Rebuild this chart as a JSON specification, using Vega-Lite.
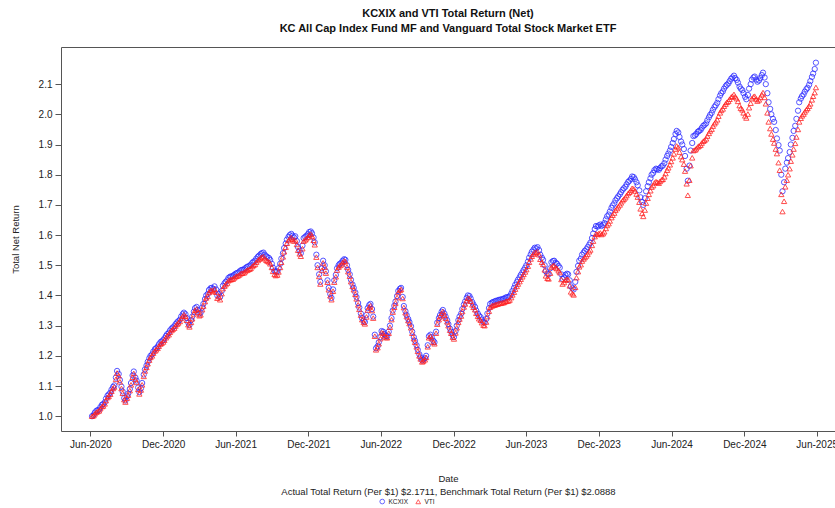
{
  "$schema": "https://vega.github.io/schema/vega-lite/v6.json",
  "width": 774,
  "height": 384,
  "autosize": {"type": "none"},
  "padding": {"left": 61, "top": 47, "right": 0, "bottom": 77},
  "background": "white",
  "config": {"view": {"stroke": null}, "font": "Liberation Sans"},
  "title": {
    "text": ["KCXIX and VTI Total Return (Net)", "KC All Cap Index Fund MF and Vanguard Total Stock Market ETF"],
    "fontSize": 11, "fontWeight": "bold", "lineHeight": 15, "anchor": "middle", "frame": "group", "offset": 13, "color": "#111"
  },
  "data": {"values": [
{"d":"2020-06-05","KCXIX":1.000,"VTI":1.000},{"d":"2020-06-12","KCXIX":1.012,"VTI":1.008},{"d":"2020-06-19","KCXIX":1.020,"VTI":1.016},{"d":"2020-06-26","KCXIX":1.030,"VTI":1.025},
{"d":"2020-07-03","KCXIX":1.040,"VTI":1.034},{"d":"2020-07-10","KCXIX":1.058,"VTI":1.052},{"d":"2020-07-17","KCXIX":1.072,"VTI":1.066},{"d":"2020-07-24","KCXIX":1.088,"VTI":1.083},
{"d":"2020-07-31","KCXIX":1.102,"VTI":1.097},{"d":"2020-08-07","KCXIX":1.150,"VTI":1.143},{"d":"2020-08-14","KCXIX":1.120,"VTI":1.114},{"d":"2020-08-21","KCXIX":1.082,"VTI":1.076},
{"d":"2020-08-28","KCXIX":1.052,"VTI":1.047},{"d":"2020-09-04","KCXIX":1.075,"VTI":1.070},{"d":"2020-09-11","KCXIX":1.110,"VTI":1.104},{"d":"2020-09-18","KCXIX":1.148,"VTI":1.142},
{"d":"2020-09-25","KCXIX":1.118,"VTI":1.112},{"d":"2020-10-02","KCXIX":1.080,"VTI":1.074},{"d":"2020-10-09","KCXIX":1.110,"VTI":1.104},{"d":"2020-10-16","KCXIX":1.155,"VTI":1.150},
{"d":"2020-10-23","KCXIX":1.180,"VTI":1.174},{"d":"2020-10-30","KCXIX":1.200,"VTI":1.195},{"d":"2020-11-06","KCXIX":1.214,"VTI":1.209},{"d":"2020-11-13","KCXIX":1.225,"VTI":1.220},
{"d":"2020-11-20","KCXIX":1.238,"VTI":1.232},{"d":"2020-11-27","KCXIX":1.248,"VTI":1.242},{"d":"2020-12-04","KCXIX":1.258,"VTI":1.252},{"d":"2020-12-11","KCXIX":1.272,"VTI":1.266},
{"d":"2020-12-18","KCXIX":1.284,"VTI":1.278},{"d":"2020-12-25","KCXIX":1.294,"VTI":1.288},{"d":"2021-01-01","KCXIX":1.305,"VTI":1.299},{"d":"2021-01-08","KCXIX":1.315,"VTI":1.309},
{"d":"2021-01-15","KCXIX":1.330,"VTI":1.324},{"d":"2021-01-22","KCXIX":1.343,"VTI":1.336},{"d":"2021-01-29","KCXIX":1.325,"VTI":1.318},{"d":"2021-02-05","KCXIX":1.302,"VTI":1.296},
{"d":"2021-02-12","KCXIX":1.330,"VTI":1.323},{"d":"2021-02-19","KCXIX":1.358,"VTI":1.351},{"d":"2021-02-26","KCXIX":1.352,"VTI":1.345},{"d":"2021-03-05","KCXIX":1.343,"VTI":1.336},
{"d":"2021-03-12","KCXIX":1.372,"VTI":1.365},{"d":"2021-03-19","KCXIX":1.400,"VTI":1.392},{"d":"2021-03-26","KCXIX":1.418,"VTI":1.410},{"d":"2021-04-02","KCXIX":1.425,"VTI":1.417},
{"d":"2021-04-09","KCXIX":1.430,"VTI":1.421},{"d":"2021-04-16","KCXIX":1.400,"VTI":1.391},{"d":"2021-04-23","KCXIX":1.395,"VTI":1.386},{"d":"2021-04-30","KCXIX":1.432,"VTI":1.423},
{"d":"2021-05-07","KCXIX":1.445,"VTI":1.436},{"d":"2021-05-14","KCXIX":1.458,"VTI":1.449},{"d":"2021-05-21","KCXIX":1.463,"VTI":1.453},{"d":"2021-05-28","KCXIX":1.468,"VTI":1.458},
{"d":"2021-06-04","KCXIX":1.474,"VTI":1.464},{"d":"2021-06-11","KCXIX":1.480,"VTI":1.469},{"d":"2021-06-18","KCXIX":1.485,"VTI":1.474},{"d":"2021-06-25","KCXIX":1.490,"VTI":1.479},
{"d":"2021-07-02","KCXIX":1.496,"VTI":1.485},{"d":"2021-07-09","KCXIX":1.502,"VTI":1.490},{"d":"2021-07-16","KCXIX":1.512,"VTI":1.500},{"d":"2021-07-23","KCXIX":1.522,"VTI":1.510},
{"d":"2021-07-30","KCXIX":1.532,"VTI":1.520},{"d":"2021-08-06","KCXIX":1.540,"VTI":1.527},{"d":"2021-08-13","KCXIX":1.535,"VTI":1.522},{"d":"2021-08-20","KCXIX":1.527,"VTI":1.514},
{"d":"2021-08-27","KCXIX":1.518,"VTI":1.505},{"d":"2021-09-03","KCXIX":1.492,"VTI":1.480},{"d":"2021-09-10","KCXIX":1.478,"VTI":1.466},{"d":"2021-09-17","KCXIX":1.490,"VTI":1.478},
{"d":"2021-09-24","KCXIX":1.522,"VTI":1.510},{"d":"2021-10-01","KCXIX":1.557,"VTI":1.545},{"d":"2021-10-08","KCXIX":1.585,"VTI":1.573},{"d":"2021-10-15","KCXIX":1.600,"VTI":1.588},
{"d":"2021-10-22","KCXIX":1.598,"VTI":1.586},{"d":"2021-10-29","KCXIX":1.596,"VTI":1.584},{"d":"2021-11-05","KCXIX":1.560,"VTI":1.550},{"d":"2021-11-12","KCXIX":1.540,"VTI":1.530},
{"d":"2021-11-19","KCXIX":1.590,"VTI":1.580},{"d":"2021-11-26","KCXIX":1.598,"VTI":1.588},{"d":"2021-12-03","KCXIX":1.610,"VTI":1.600},{"d":"2021-12-10","KCXIX":1.606,"VTI":1.597},
{"d":"2021-12-17","KCXIX":1.576,"VTI":1.568},{"d":"2021-12-24","KCXIX":1.500,"VTI":1.493},{"d":"2021-12-31","KCXIX":1.445,"VTI":1.438},{"d":"2022-01-07","KCXIX":1.515,"VTI":1.508},
{"d":"2022-01-14","KCXIX":1.480,"VTI":1.474},{"d":"2022-01-21","KCXIX":1.425,"VTI":1.419},{"d":"2022-01-28","KCXIX":1.392,"VTI":1.386},{"d":"2022-02-04","KCXIX":1.450,"VTI":1.444},
{"d":"2022-02-11","KCXIX":1.490,"VTI":1.484},{"d":"2022-02-18","KCXIX":1.505,"VTI":1.499},{"d":"2022-02-25","KCXIX":1.515,"VTI":1.509},{"d":"2022-03-04","KCXIX":1.518,"VTI":1.512},
{"d":"2022-03-11","KCXIX":1.485,"VTI":1.479},{"d":"2022-03-18","KCXIX":1.452,"VTI":1.446},{"d":"2022-03-25","KCXIX":1.425,"VTI":1.419},{"d":"2022-04-01","KCXIX":1.395,"VTI":1.389},
{"d":"2022-04-08","KCXIX":1.360,"VTI":1.354},{"d":"2022-04-15","KCXIX":1.325,"VTI":1.320},{"d":"2022-04-22","KCXIX":1.312,"VTI":1.306},{"d":"2022-04-29","KCXIX":1.358,"VTI":1.352},
{"d":"2022-05-06","KCXIX":1.372,"VTI":1.366},{"d":"2022-05-13","KCXIX":1.330,"VTI":1.325},{"d":"2022-05-20","KCXIX":1.225,"VTI":1.220},{"d":"2022-05-27","KCXIX":1.245,"VTI":1.240},
{"d":"2022-06-03","KCXIX":1.282,"VTI":1.277},{"d":"2022-06-10","KCXIX":1.272,"VTI":1.267},{"d":"2022-06-17","KCXIX":1.265,"VTI":1.260},{"d":"2022-06-24","KCXIX":1.300,"VTI":1.295},
{"d":"2022-07-01","KCXIX":1.350,"VTI":1.345},{"d":"2022-07-08","KCXIX":1.380,"VTI":1.375},{"d":"2022-07-15","KCXIX":1.415,"VTI":1.410},{"d":"2022-07-22","KCXIX":1.425,"VTI":1.420},
{"d":"2022-07-29","KCXIX":1.365,"VTI":1.360},{"d":"2022-08-05","KCXIX":1.335,"VTI":1.330},{"d":"2022-08-12","KCXIX":1.312,"VTI":1.307},{"d":"2022-08-19","KCXIX":1.280,"VTI":1.275},
{"d":"2022-08-26","KCXIX":1.250,"VTI":1.245},{"d":"2022-09-02","KCXIX":1.220,"VTI":1.215},{"d":"2022-09-09","KCXIX":1.195,"VTI":1.190},{"d":"2022-09-16","KCXIX":1.188,"VTI":1.183},
{"d":"2022-09-23","KCXIX":1.200,"VTI":1.195},{"d":"2022-09-30","KCXIX":1.265,"VTI":1.260},{"d":"2022-10-07","KCXIX":1.262,"VTI":1.257},{"d":"2022-10-14","KCXIX":1.245,"VTI":1.240},
{"d":"2022-10-21","KCXIX":1.310,"VTI":1.305},{"d":"2022-10-28","KCXIX":1.335,"VTI":1.330},{"d":"2022-11-04","KCXIX":1.352,"VTI":1.347},{"d":"2022-11-11","KCXIX":1.330,"VTI":1.325},
{"d":"2022-11-18","KCXIX":1.305,"VTI":1.300},{"d":"2022-11-25","KCXIX":1.280,"VTI":1.275},{"d":"2022-12-02","KCXIX":1.262,"VTI":1.256},{"d":"2022-12-09","KCXIX":1.300,"VTI":1.293},
{"d":"2022-12-16","KCXIX":1.330,"VTI":1.322},{"d":"2022-12-23","KCXIX":1.355,"VTI":1.347},{"d":"2022-12-30","KCXIX":1.380,"VTI":1.372},{"d":"2023-01-06","KCXIX":1.400,"VTI":1.391},
{"d":"2023-01-13","KCXIX":1.390,"VTI":1.381},{"d":"2023-01-20","KCXIX":1.370,"VTI":1.361},{"d":"2023-01-27","KCXIX":1.350,"VTI":1.341},{"d":"2023-02-03","KCXIX":1.333,"VTI":1.323},
{"d":"2023-02-10","KCXIX":1.320,"VTI":1.310},{"d":"2023-02-17","KCXIX":1.310,"VTI":1.300},{"d":"2023-02-24","KCXIX":1.340,"VTI":1.330},{"d":"2023-03-03","KCXIX":1.372,"VTI":1.361},
{"d":"2023-03-10","KCXIX":1.378,"VTI":1.367},{"d":"2023-03-17","KCXIX":1.382,"VTI":1.370},{"d":"2023-03-24","KCXIX":1.385,"VTI":1.373},{"d":"2023-03-31","KCXIX":1.387,"VTI":1.375},
{"d":"2023-04-07","KCXIX":1.390,"VTI":1.377},{"d":"2023-04-14","KCXIX":1.394,"VTI":1.381},{"d":"2023-04-21","KCXIX":1.398,"VTI":1.385},{"d":"2023-04-28","KCXIX":1.415,"VTI":1.402},
{"d":"2023-05-05","KCXIX":1.435,"VTI":1.421},{"d":"2023-05-12","KCXIX":1.452,"VTI":1.438},{"d":"2023-05-19","KCXIX":1.468,"VTI":1.454},{"d":"2023-05-26","KCXIX":1.484,"VTI":1.470},
{"d":"2023-06-02","KCXIX":1.500,"VTI":1.486},{"d":"2023-06-09","KCXIX":1.525,"VTI":1.510},{"d":"2023-06-16","KCXIX":1.545,"VTI":1.530},{"d":"2023-06-23","KCXIX":1.558,"VTI":1.543},
{"d":"2023-06-30","KCXIX":1.560,"VTI":1.545},{"d":"2023-07-07","KCXIX":1.535,"VTI":1.520},{"d":"2023-07-14","KCXIX":1.518,"VTI":1.503},{"d":"2023-07-21","KCXIX":1.480,"VTI":1.465},
{"d":"2023-07-28","KCXIX":1.470,"VTI":1.455},{"d":"2023-08-04","KCXIX":1.510,"VTI":1.494},{"d":"2023-08-11","KCXIX":1.515,"VTI":1.499},{"d":"2023-08-18","KCXIX":1.505,"VTI":1.489},
{"d":"2023-08-25","KCXIX":1.492,"VTI":1.476},{"d":"2023-09-01","KCXIX":1.455,"VTI":1.438},{"d":"2023-09-08","KCXIX":1.468,"VTI":1.451},{"d":"2023-09-15","KCXIX":1.470,"VTI":1.452},
{"d":"2023-09-22","KCXIX":1.430,"VTI":1.412},{"d":"2023-09-29","KCXIX":1.420,"VTI":1.402},{"d":"2023-10-06","KCXIX":1.478,"VTI":1.459},{"d":"2023-10-13","KCXIX":1.515,"VTI":1.495},
{"d":"2023-10-20","KCXIX":1.535,"VTI":1.514},{"d":"2023-10-27","KCXIX":1.548,"VTI":1.526},{"d":"2023-11-03","KCXIX":1.560,"VTI":1.537},{"d":"2023-11-10","KCXIX":1.575,"VTI":1.551},
{"d":"2023-11-17","KCXIX":1.605,"VTI":1.580},{"d":"2023-11-24","KCXIX":1.630,"VTI":1.604},{"d":"2023-12-01","KCXIX":1.632,"VTI":1.605},{"d":"2023-12-08","KCXIX":1.630,"VTI":1.602},
{"d":"2023-12-15","KCXIX":1.640,"VTI":1.611},{"d":"2023-12-22","KCXIX":1.662,"VTI":1.632},{"d":"2023-12-29","KCXIX":1.678,"VTI":1.647},{"d":"2024-01-05","KCXIX":1.698,"VTI":1.666},
{"d":"2024-01-12","KCXIX":1.715,"VTI":1.682},{"d":"2024-01-19","KCXIX":1.728,"VTI":1.694},{"d":"2024-01-26","KCXIX":1.742,"VTI":1.707},{"d":"2024-02-02","KCXIX":1.755,"VTI":1.719},
{"d":"2024-02-09","KCXIX":1.768,"VTI":1.731},{"d":"2024-02-16","KCXIX":1.780,"VTI":1.742},{"d":"2024-02-23","KCXIX":1.794,"VTI":1.755},{"d":"2024-03-01","KCXIX":1.785,"VTI":1.746},
{"d":"2024-03-08","KCXIX":1.765,"VTI":1.726},{"d":"2024-03-15","KCXIX":1.725,"VTI":1.687},{"d":"2024-03-22","KCXIX":1.700,"VTI":1.662},{"d":"2024-03-29","KCXIX":1.745,"VTI":1.706},
{"d":"2024-04-05","KCXIX":1.775,"VTI":1.735},{"d":"2024-04-12","KCXIX":1.800,"VTI":1.759},{"d":"2024-04-19","KCXIX":1.815,"VTI":1.773},{"d":"2024-04-26","KCXIX":1.818,"VTI":1.775},
{"d":"2024-05-03","KCXIX":1.822,"VTI":1.778},{"d":"2024-05-10","KCXIX":1.830,"VTI":1.785},{"d":"2024-05-17","KCXIX":1.850,"VTI":1.804},{"d":"2024-05-24","KCXIX":1.870,"VTI":1.823},
{"d":"2024-05-31","KCXIX":1.892,"VTI":1.844},{"d":"2024-06-07","KCXIX":1.918,"VTI":1.869},{"d":"2024-06-14","KCXIX":1.945,"VTI":1.895},{"d":"2024-06-21","KCXIX":1.925,"VTI":1.875},
{"d":"2024-06-28","KCXIX":1.900,"VTI":1.850},{"d":"2024-07-05","KCXIX":1.862,"VTI":1.812},{"d":"2024-07-12","KCXIX":1.780,"VTI":1.732},{"d":"2024-07-19","KCXIX":1.880,"VTI":1.830},
{"d":"2024-07-26","KCXIX":1.928,"VTI":1.880},{"d":"2024-08-02","KCXIX":1.935,"VTI":1.886},{"d":"2024-08-09","KCXIX":1.945,"VTI":1.895},{"d":"2024-08-16","KCXIX":1.955,"VTI":1.905},
{"d":"2024-08-23","KCXIX":1.965,"VTI":1.914},{"d":"2024-08-30","KCXIX":1.980,"VTI":1.928},{"d":"2024-09-06","KCXIX":1.998,"VTI":1.945},{"d":"2024-09-13","KCXIX":2.015,"VTI":1.961},
{"d":"2024-09-20","KCXIX":2.030,"VTI":1.975},{"d":"2024-09-27","KCXIX":2.050,"VTI":1.994},{"d":"2024-10-04","KCXIX":2.070,"VTI":2.013},{"d":"2024-10-11","KCXIX":2.085,"VTI":2.027},
{"d":"2024-10-18","KCXIX":2.098,"VTI":2.040},{"d":"2024-10-25","KCXIX":2.110,"VTI":2.050},{"d":"2024-11-01","KCXIX":2.122,"VTI":2.060},{"d":"2024-11-08","KCXIX":2.120,"VTI":2.058},
{"d":"2024-11-15","KCXIX":2.105,"VTI":2.043},{"d":"2024-11-22","KCXIX":2.085,"VTI":2.020},{"d":"2024-11-29","KCXIX":2.070,"VTI":2.005},{"d":"2024-12-06","KCXIX":2.050,"VTI":1.988},
{"d":"2024-12-13","KCXIX":2.085,"VTI":2.022},{"d":"2024-12-20","KCXIX":2.115,"VTI":2.052},{"d":"2024-12-27","KCXIX":2.125,"VTI":2.060},{"d":"2025-01-03","KCXIX":2.108,"VTI":2.044},
{"d":"2025-01-10","KCXIX":2.120,"VTI":2.056},{"d":"2025-01-17","KCXIX":2.138,"VTI":2.072},{"d":"2025-01-24","KCXIX":2.100,"VTI":2.035},{"d":"2025-01-31","KCXIX":2.040,"VTI":1.975},
{"d":"2025-02-07","KCXIX":2.000,"VTI":1.935},{"d":"2025-02-14","KCXIX":1.975,"VTI":1.905},{"d":"2025-02-21","KCXIX":1.920,"VTI":1.870},{"d":"2025-02-28","KCXIX":1.880,"VTI":1.815},
{"d":"2025-03-07","KCXIX":1.745,"VTI":1.678},{"d":"2025-03-14","KCXIX":1.820,"VTI":1.760},{"d":"2025-03-21","KCXIX":1.855,"VTI":1.800},{"d":"2025-03-28","KCXIX":1.900,"VTI":1.845},
{"d":"2025-04-04","KCXIX":1.945,"VTI":1.885},{"d":"2025-04-11","KCXIX":1.985,"VTI":1.925},{"d":"2025-04-18","KCXIX":2.040,"VTI":1.975},{"d":"2025-04-25","KCXIX":2.060,"VTI":1.995},
{"d":"2025-05-02","KCXIX":2.075,"VTI":2.008},{"d":"2025-05-09","KCXIX":2.088,"VTI":2.020},{"d":"2025-05-16","KCXIX":2.110,"VTI":2.035},{"d":"2025-05-23","KCXIX":2.135,"VTI":2.060},
{"d":"2025-05-30","KCXIX":2.171,"VTI":2.089},
{"d":"2020-06-09","KCXIX":1.004,"VTI":1.002},{"d":"2020-06-16","KCXIX":1.018,"VTI":1.013},{"d":"2020-06-23","KCXIX":1.022,"VTI":1.018},{"d":"2020-06-30","KCXIX":1.038,"VTI":1.032},
{"d":"2020-07-07","KCXIX":1.046,"VTI":1.041},{"d":"2020-07-14","KCXIX":1.068,"VTI":1.062},{"d":"2020-07-21","KCXIX":1.078,"VTI":1.073},{"d":"2020-07-28","KCXIX":1.097,"VTI":1.092},
{"d":"2020-08-04","KCXIX":1.128,"VTI":1.122},{"d":"2020-08-11","KCXIX":1.140,"VTI":1.134},{"d":"2020-08-18","KCXIX":1.098,"VTI":1.092},{"d":"2020-08-25","KCXIX":1.060,"VTI":1.055},
{"d":"2020-09-01","KCXIX":1.066,"VTI":1.060},{"d":"2020-09-08","KCXIX":1.090,"VTI":1.085},{"d":"2020-09-15","KCXIX":1.135,"VTI":1.129},{"d":"2020-09-22","KCXIX":1.128,"VTI":1.122},
{"d":"2020-09-29","KCXIX":1.095,"VTI":1.089},{"d":"2020-10-06","KCXIX":1.092,"VTI":1.087},{"d":"2020-10-13","KCXIX":1.138,"VTI":1.132},{"d":"2020-10-20","KCXIX":1.168,"VTI":1.162},
{"d":"2020-10-27","KCXIX":1.192,"VTI":1.186},{"d":"2020-11-03","KCXIX":1.205,"VTI":1.200},{"d":"2020-11-10","KCXIX":1.222,"VTI":1.216},{"d":"2020-11-17","KCXIX":1.230,"VTI":1.225},
{"d":"2020-11-24","KCXIX":1.245,"VTI":1.239},{"d":"2020-12-01","KCXIX":1.252,"VTI":1.246},{"d":"2020-12-08","KCXIX":1.266,"VTI":1.260},{"d":"2020-12-15","KCXIX":1.276,"VTI":1.270},
{"d":"2020-12-22","KCXIX":1.290,"VTI":1.284},{"d":"2020-12-29","KCXIX":1.298,"VTI":1.292},{"d":"2021-01-05","KCXIX":1.311,"VTI":1.305},{"d":"2021-01-12","KCXIX":1.320,"VTI":1.314},
{"d":"2021-01-19","KCXIX":1.338,"VTI":1.331},{"d":"2021-01-26","KCXIX":1.338,"VTI":1.331},{"d":"2021-02-02","KCXIX":1.310,"VTI":1.303},{"d":"2021-02-09","KCXIX":1.318,"VTI":1.311},
{"d":"2021-02-16","KCXIX":1.346,"VTI":1.339},{"d":"2021-02-23","KCXIX":1.362,"VTI":1.355},{"d":"2021-03-02","KCXIX":1.340,"VTI":1.333},{"d":"2021-03-09","KCXIX":1.360,"VTI":1.353},
{"d":"2021-03-16","KCXIX":1.388,"VTI":1.380},{"d":"2021-03-23","KCXIX":1.405,"VTI":1.397},{"d":"2021-03-30","KCXIX":1.424,"VTI":1.416},{"d":"2021-04-06","KCXIX":1.422,"VTI":1.413},
{"d":"2021-04-13","KCXIX":1.420,"VTI":1.411},{"d":"2021-04-20","KCXIX":1.405,"VTI":1.396},{"d":"2021-04-27","KCXIX":1.415,"VTI":1.406},{"d":"2021-05-04","KCXIX":1.440,"VTI":1.431},
{"d":"2021-05-11","KCXIX":1.450,"VTI":1.441},{"d":"2021-05-18","KCXIX":1.462,"VTI":1.452},{"d":"2021-05-25","KCXIX":1.464,"VTI":1.454},{"d":"2021-06-01","KCXIX":1.472,"VTI":1.462},
{"d":"2021-06-08","KCXIX":1.476,"VTI":1.466},{"d":"2021-06-15","KCXIX":1.484,"VTI":1.473},{"d":"2021-06-22","KCXIX":1.486,"VTI":1.475},{"d":"2021-06-29","KCXIX":1.494,"VTI":1.483},
{"d":"2021-07-06","KCXIX":1.498,"VTI":1.487},{"d":"2021-07-13","KCXIX":1.508,"VTI":1.496},{"d":"2021-07-20","KCXIX":1.515,"VTI":1.503},{"d":"2021-07-27","KCXIX":1.528,"VTI":1.516},
{"d":"2021-08-03","KCXIX":1.537,"VTI":1.524},{"d":"2021-08-10","KCXIX":1.542,"VTI":1.529},{"d":"2021-08-17","KCXIX":1.530,"VTI":1.517},{"d":"2021-08-24","KCXIX":1.524,"VTI":1.511},
{"d":"2021-08-31","KCXIX":1.505,"VTI":1.493},{"d":"2021-09-07","KCXIX":1.482,"VTI":1.470},{"d":"2021-09-14","KCXIX":1.480,"VTI":1.468},{"d":"2021-09-21","KCXIX":1.505,"VTI":1.493},
{"d":"2021-09-28","KCXIX":1.540,"VTI":1.528},{"d":"2021-10-05","KCXIX":1.572,"VTI":1.560},{"d":"2021-10-12","KCXIX":1.594,"VTI":1.582},{"d":"2021-10-19","KCXIX":1.604,"VTI":1.592},
{"d":"2021-10-26","KCXIX":1.592,"VTI":1.580},{"d":"2021-11-02","KCXIX":1.580,"VTI":1.569},{"d":"2021-11-09","KCXIX":1.548,"VTI":1.538},{"d":"2021-11-16","KCXIX":1.565,"VTI":1.555},
{"d":"2021-11-23","KCXIX":1.594,"VTI":1.584},{"d":"2021-11-30","KCXIX":1.603,"VTI":1.593},{"d":"2021-12-07","KCXIX":1.612,"VTI":1.603},{"d":"2021-12-14","KCXIX":1.592,"VTI":1.583},
{"d":"2021-12-21","KCXIX":1.535,"VTI":1.527},{"d":"2021-12-28","KCXIX":1.470,"VTI":1.463},{"d":"2022-01-04","KCXIX":1.490,"VTI":1.483},{"d":"2022-01-11","KCXIX":1.500,"VTI":1.494},
{"d":"2022-01-18","KCXIX":1.450,"VTI":1.444},{"d":"2022-01-25","KCXIX":1.405,"VTI":1.399},{"d":"2022-02-01","KCXIX":1.420,"VTI":1.414},{"d":"2022-02-08","KCXIX":1.468,"VTI":1.462},
{"d":"2022-02-15","KCXIX":1.500,"VTI":1.494},{"d":"2022-02-22","KCXIX":1.508,"VTI":1.502},{"d":"2022-03-01","KCXIX":1.520,"VTI":1.514},{"d":"2022-03-08","KCXIX":1.500,"VTI":1.494},
{"d":"2022-03-15","KCXIX":1.470,"VTI":1.464},{"d":"2022-03-22","KCXIX":1.436,"VTI":1.430},{"d":"2022-03-29","KCXIX":1.410,"VTI":1.404},{"d":"2022-04-05","KCXIX":1.375,"VTI":1.369},
{"d":"2022-04-12","KCXIX":1.340,"VTI":1.335},{"d":"2022-04-19","KCXIX":1.316,"VTI":1.311},{"d":"2022-04-26","KCXIX":1.335,"VTI":1.329},{"d":"2022-05-03","KCXIX":1.368,"VTI":1.362},
{"d":"2022-05-10","KCXIX":1.355,"VTI":1.350},{"d":"2022-05-17","KCXIX":1.270,"VTI":1.265},{"d":"2022-05-24","KCXIX":1.232,"VTI":1.227},{"d":"2022-05-31","KCXIX":1.262,"VTI":1.257},
{"d":"2022-06-07","KCXIX":1.280,"VTI":1.275},{"d":"2022-06-14","KCXIX":1.266,"VTI":1.261},{"d":"2022-06-21","KCXIX":1.280,"VTI":1.275},{"d":"2022-06-28","KCXIX":1.325,"VTI":1.320},
{"d":"2022-07-05","KCXIX":1.366,"VTI":1.361},{"d":"2022-07-12","KCXIX":1.398,"VTI":1.393},{"d":"2022-07-19","KCXIX":1.422,"VTI":1.417},{"d":"2022-07-26","KCXIX":1.395,"VTI":1.390},
{"d":"2022-08-02","KCXIX":1.348,"VTI":1.343},{"d":"2022-08-09","KCXIX":1.322,"VTI":1.317},{"d":"2022-08-16","KCXIX":1.298,"VTI":1.293},{"d":"2022-08-23","KCXIX":1.262,"VTI":1.257},
{"d":"2022-08-30","KCXIX":1.235,"VTI":1.230},{"d":"2022-09-06","KCXIX":1.205,"VTI":1.200},{"d":"2022-09-13","KCXIX":1.185,"VTI":1.180},{"d":"2022-09-20","KCXIX":1.192,"VTI":1.187},
{"d":"2022-09-27","KCXIX":1.235,"VTI":1.230},{"d":"2022-10-04","KCXIX":1.270,"VTI":1.265},{"d":"2022-10-11","KCXIX":1.250,"VTI":1.245},{"d":"2022-10-18","KCXIX":1.280,"VTI":1.275},
{"d":"2022-10-25","KCXIX":1.325,"VTI":1.320},{"d":"2022-11-01","KCXIX":1.346,"VTI":1.341},{"d":"2022-11-08","KCXIX":1.340,"VTI":1.335},{"d":"2022-11-15","KCXIX":1.318,"VTI":1.313},
{"d":"2022-11-22","KCXIX":1.290,"VTI":1.285},{"d":"2022-11-29","KCXIX":1.268,"VTI":1.262},{"d":"2022-12-06","KCXIX":1.282,"VTI":1.276},{"d":"2022-12-13","KCXIX":1.318,"VTI":1.311},
{"d":"2022-12-20","KCXIX":1.340,"VTI":1.332},{"d":"2022-12-27","KCXIX":1.370,"VTI":1.362},{"d":"2023-01-03","KCXIX":1.392,"VTI":1.383},{"d":"2023-01-10","KCXIX":1.398,"VTI":1.389},
{"d":"2023-01-17","KCXIX":1.378,"VTI":1.369},{"d":"2023-01-24","KCXIX":1.362,"VTI":1.353},{"d":"2023-01-31","KCXIX":1.340,"VTI":1.331},{"d":"2023-02-07","KCXIX":1.328,"VTI":1.318},
{"d":"2023-02-14","KCXIX":1.312,"VTI":1.302},{"d":"2023-02-21","KCXIX":1.322,"VTI":1.312},{"d":"2023-02-28","KCXIX":1.358,"VTI":1.348},{"d":"2023-03-07","KCXIX":1.376,"VTI":1.365},
{"d":"2023-03-14","KCXIX":1.380,"VTI":1.368},{"d":"2023-03-21","KCXIX":1.383,"VTI":1.371},{"d":"2023-03-28","KCXIX":1.386,"VTI":1.374},{"d":"2023-04-04","KCXIX":1.388,"VTI":1.376},
{"d":"2023-04-11","KCXIX":1.393,"VTI":1.380},{"d":"2023-04-18","KCXIX":1.395,"VTI":1.382},{"d":"2023-04-25","KCXIX":1.406,"VTI":1.393},{"d":"2023-05-02","KCXIX":1.425,"VTI":1.411},
{"d":"2023-05-09","KCXIX":1.444,"VTI":1.430},{"d":"2023-05-16","KCXIX":1.460,"VTI":1.446},{"d":"2023-05-23","KCXIX":1.476,"VTI":1.462},{"d":"2023-05-30","KCXIX":1.492,"VTI":1.478},
{"d":"2023-06-06","KCXIX":1.512,"VTI":1.497},{"d":"2023-06-13","KCXIX":1.536,"VTI":1.521},{"d":"2023-06-20","KCXIX":1.552,"VTI":1.537},{"d":"2023-06-27","KCXIX":1.556,"VTI":1.541},
{"d":"2023-07-04","KCXIX":1.550,"VTI":1.535},{"d":"2023-07-11","KCXIX":1.525,"VTI":1.510},{"d":"2023-07-18","KCXIX":1.500,"VTI":1.485},{"d":"2023-07-25","KCXIX":1.472,"VTI":1.457},
{"d":"2023-08-01","KCXIX":1.490,"VTI":1.474},{"d":"2023-08-08","KCXIX":1.514,"VTI":1.498},{"d":"2023-08-15","KCXIX":1.508,"VTI":1.492},{"d":"2023-08-22","KCXIX":1.498,"VTI":1.482},
{"d":"2023-08-29","KCXIX":1.470,"VTI":1.453},{"d":"2023-09-05","KCXIX":1.460,"VTI":1.443},{"d":"2023-09-12","KCXIX":1.472,"VTI":1.454},{"d":"2023-09-19","KCXIX":1.450,"VTI":1.432},
{"d":"2023-09-26","KCXIX":1.424,"VTI":1.406},{"d":"2023-10-03","KCXIX":1.445,"VTI":1.427},{"d":"2023-10-10","KCXIX":1.498,"VTI":1.479},{"d":"2023-10-17","KCXIX":1.522,"VTI":1.502},
{"d":"2023-10-24","KCXIX":1.542,"VTI":1.521},{"d":"2023-10-31","KCXIX":1.553,"VTI":1.531},{"d":"2023-11-07","KCXIX":1.568,"VTI":1.545},{"d":"2023-11-14","KCXIX":1.590,"VTI":1.566},
{"d":"2023-11-21","KCXIX":1.620,"VTI":1.595},{"d":"2023-11-28","KCXIX":1.628,"VTI":1.602},{"d":"2023-12-05","KCXIX":1.635,"VTI":1.607},{"d":"2023-12-12","KCXIX":1.634,"VTI":1.605},
{"d":"2023-12-19","KCXIX":1.652,"VTI":1.622},{"d":"2023-12-26","KCXIX":1.668,"VTI":1.638},{"d":"2024-01-02","KCXIX":1.690,"VTI":1.658},{"d":"2024-01-09","KCXIX":1.705,"VTI":1.673},
{"d":"2024-01-16","KCXIX":1.722,"VTI":1.688},{"d":"2024-01-23","KCXIX":1.735,"VTI":1.700},{"d":"2024-01-30","KCXIX":1.750,"VTI":1.714},{"d":"2024-02-06","KCXIX":1.760,"VTI":1.724},
{"d":"2024-02-13","KCXIX":1.776,"VTI":1.738},{"d":"2024-02-20","KCXIX":1.786,"VTI":1.748},{"d":"2024-02-27","KCXIX":1.792,"VTI":1.753},{"d":"2024-03-05","KCXIX":1.775,"VTI":1.736},
{"d":"2024-03-12","KCXIX":1.748,"VTI":1.709},{"d":"2024-03-19","KCXIX":1.710,"VTI":1.672},{"d":"2024-03-26","KCXIX":1.722,"VTI":1.683},{"d":"2024-04-02","KCXIX":1.762,"VTI":1.722},
{"d":"2024-04-09","KCXIX":1.788,"VTI":1.747},{"d":"2024-04-16","KCXIX":1.806,"VTI":1.764},{"d":"2024-04-23","KCXIX":1.820,"VTI":1.777},{"d":"2024-04-30","KCXIX":1.816,"VTI":1.772},
{"d":"2024-05-07","KCXIX":1.828,"VTI":1.783},{"d":"2024-05-14","KCXIX":1.838,"VTI":1.793},{"d":"2024-05-21","KCXIX":1.862,"VTI":1.815},{"d":"2024-05-28","KCXIX":1.880,"VTI":1.833},
{"d":"2024-06-04","KCXIX":1.905,"VTI":1.856},{"d":"2024-06-11","KCXIX":1.935,"VTI":1.885},{"d":"2024-06-18","KCXIX":1.940,"VTI":1.890},{"d":"2024-06-25","KCXIX":1.910,"VTI":1.860},
{"d":"2024-07-02","KCXIX":1.885,"VTI":1.835},{"d":"2024-07-09","KCXIX":1.820,"VTI":1.770},{"d":"2024-07-16","KCXIX":1.830,"VTI":1.782},{"d":"2024-07-23","KCXIX":1.905,"VTI":1.856},
{"d":"2024-07-30","KCXIX":1.930,"VTI":1.882},{"d":"2024-08-06","KCXIX":1.942,"VTI":1.892},{"d":"2024-08-13","KCXIX":1.948,"VTI":1.898},{"d":"2024-08-20","KCXIX":1.962,"VTI":1.911},
{"d":"2024-08-27","KCXIX":1.970,"VTI":1.919},{"d":"2024-09-03","KCXIX":1.990,"VTI":1.937},{"d":"2024-09-10","KCXIX":2.005,"VTI":1.951},{"d":"2024-09-17","KCXIX":2.024,"VTI":1.969},
{"d":"2024-09-24","KCXIX":2.038,"VTI":1.982},{"d":"2024-10-01","KCXIX":2.062,"VTI":2.005},{"d":"2024-10-08","KCXIX":2.076,"VTI":2.018},{"d":"2024-10-15","KCXIX":2.093,"VTI":2.034},
{"d":"2024-10-22","KCXIX":2.102,"VTI":2.043},{"d":"2024-10-29","KCXIX":2.118,"VTI":2.057},{"d":"2024-11-05","KCXIX":2.128,"VTI":2.066},{"d":"2024-11-12","KCXIX":2.114,"VTI":2.052},
{"d":"2024-11-19","KCXIX":2.092,"VTI":2.029},{"d":"2024-11-26","KCXIX":2.080,"VTI":2.015},{"d":"2024-12-03","KCXIX":2.058,"VTI":1.995},{"d":"2024-12-10","KCXIX":2.064,"VTI":2.001},
{"d":"2024-12-17","KCXIX":2.100,"VTI":2.037},{"d":"2024-12-24","KCXIX":2.122,"VTI":2.058},{"d":"2024-12-31","KCXIX":2.115,"VTI":2.051},{"d":"2025-01-07","KCXIX":2.112,"VTI":2.048},
{"d":"2025-01-14","KCXIX":2.130,"VTI":2.065},{"d":"2025-01-21","KCXIX":2.122,"VTI":2.056},{"d":"2025-01-28","KCXIX":2.070,"VTI":2.005},{"d":"2025-02-04","KCXIX":2.018,"VTI":1.953},
{"d":"2025-02-11","KCXIX":1.985,"VTI":1.918},{"d":"2025-02-18","KCXIX":1.948,"VTI":1.885},{"d":"2025-02-25","KCXIX":1.898,"VTI":1.840},{"d":"2025-03-04","KCXIX":1.800,"VTI":1.735},
{"d":"2025-03-11","KCXIX":1.775,"VTI":1.712},{"d":"2025-03-18","KCXIX":1.840,"VTI":1.782},{"d":"2025-03-25","KCXIX":1.875,"VTI":1.820},{"d":"2025-04-01","KCXIX":1.922,"VTI":1.866},
{"d":"2025-04-08","KCXIX":1.962,"VTI":1.904},{"d":"2025-04-15","KCXIX":2.012,"VTI":1.950},{"d":"2025-04-22","KCXIX":2.052,"VTI":1.987},{"d":"2025-04-29","KCXIX":2.066,"VTI":2.001},
{"d":"2025-05-06","KCXIX":2.083,"VTI":2.015},{"d":"2025-05-13","KCXIX":2.098,"VTI":2.027},{"d":"2025-05-20","KCXIX":2.124,"VTI":2.048},{"d":"2025-05-27","KCXIX":2.150,"VTI":2.072}
  ]},
  "transform": [{"fold": ["KCXIX", "VTI"], "as": ["s", "r"]}],
  "resolve": {"axis": {"x": "independent"}},
  "encoding": {
    "y": {"field": "r", "type": "quantitative",
      "scale": {"domain": [0.951, 2.223], "nice": false, "zero": false},
      "axis": {
        "values": [1.0, 1.1, 1.2, 1.3, 1.4, 1.5, 1.6, 1.7, 1.8, 1.9, 2.0, 2.1],
        "format": ".1f", "labelFlush": false, "labelOverlap": false, "labelFontSize": 10, "labelColor": "#222",
        "tickSize": 6, "labelPadding": 3, "grid": false, "domainColor": "#555", "tickColor": "#555",
        "title": "Total Net Return", "titleFontSize": 9.5, "titleFontWeight": "normal", "titleColor": "#222",
        "titleX": -46, "titleY": 192, "titleAngle": 270, "titleAlign": "center", "titleBaseline": "middle"
      }
    },
    "color": {"field": "s", "type": "nominal",
      "scale": {"domain": ["KCXIX", "VTI"], "range": ["#2c2cff", "#ff2020"]},
      "legend": {
        "orient": "none", "legendX": 318, "legendY": 451, "direction": "horizontal", "title": null,
        "labelFontSize": 6.5, "labelColor": "#222", "symbolSize": 22, "symbolStrokeWidth": 0.9,
        "columnPadding": 5, "labelOffset": 3
      }
    },
    "shape": {"field": "s", "type": "nominal",
      "scale": {"domain": ["KCXIX", "VTI"], "range": ["circle", "triangle-up"]}}
  },
  "layer": [
    {
      "transform": [{"filter": "datum.s === 'KCXIX'"}],
      "mark": {"type": "point", "filled": false, "size": 28, "strokeWidth": 1, "opacity": 0.8},
      "encoding": {
        "x": {"field": "d", "type": "temporal",
          "scale": {"type": "utc", "domain": [{"year": 2020, "month": 3, "date": 19, "utc": true}, {"year": 2025, "month": 7, "date": 17, "utc": true}]},
          "axis": {
            "orient": "bottom",
            "values": [
              {"year": 2020, "month": 6, "date": 1, "utc": true}, {"year": 2020, "month": 12, "date": 1, "utc": true},
              {"year": 2021, "month": 6, "date": 1, "utc": true}, {"year": 2021, "month": 12, "date": 1, "utc": true},
              {"year": 2022, "month": 6, "date": 1, "utc": true}, {"year": 2022, "month": 12, "date": 1, "utc": true},
              {"year": 2023, "month": 6, "date": 1, "utc": true}, {"year": 2023, "month": 12, "date": 1, "utc": true},
              {"year": 2024, "month": 6, "date": 1, "utc": true}, {"year": 2024, "month": 12, "date": 1, "utc": true},
              {"year": 2025, "month": 6, "date": 1, "utc": true}
            ],
            "labelExpr": "utcFormat(datum.value, '%b-%Y')", "labelFlush": false, "labelOverlap": false,
            "labelFontSize": 10, "labelColor": "#222", "tickSize": 5, "labelPadding": 3,
            "grid": false, "domainColor": "#555", "tickColor": "#555",
            "title": ["Date", "Actual Total Return (Per $1) $2.1711,  Benchmark Total Return (Per $1) $2.0888"],
            "titleFontSize": 9.5, "titleFontWeight": "normal", "titleColor": "#222",
            "titleY": 42, "titleBaseline": "top", "titleLineHeight": 13
          }
        }
      }
    },
    {
      "transform": [{"filter": "datum.s === 'VTI'"}],
      "mark": {"type": "point", "filled": false, "size": 28, "strokeWidth": 1, "opacity": 0.8},
      "encoding": {
        "x": {"field": "d", "type": "temporal",
          "scale": {"type": "utc", "domain": [{"year": 2020, "month": 3, "date": 19, "utc": true}, {"year": 2025, "month": 7, "date": 17, "utc": true}]},
          "axis": {"orient": "top", "labels": false, "ticks": false, "title": null, "grid": false, "domainColor": "#555"}
        }
      }
    }
  ]
}
